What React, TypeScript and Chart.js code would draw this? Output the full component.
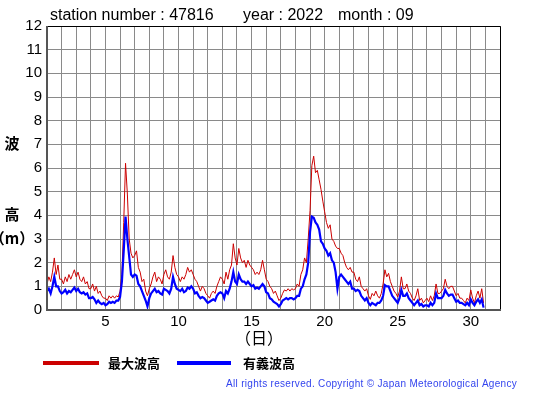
import React, { useEffect, useRef } from "react";
import { Chart, registerables } from "chart.js";

Chart.register(...registerables);

// 3-hourly observations, 8 per day, starting Sept 1 00:00 (values in m)
const maxWave: number[] = [
  1.1, 1.4, 1.2, 1.6, 2.2, 1.5, 1.9, 1.3,
  1.3, 1.1, 1.4, 1.2, 1.5, 1.3, 1.5, 1.7,
  1.4, 1.6, 1.3, 1.2, 1.4, 1.1, 1.2, 0.9,
  0.9, 1.1, 0.8, 1.0, 0.7, 0.8, 0.6, 0.5,
  0.5, 0.4, 0.6, 0.5, 0.6, 0.5, 0.6, 0.55,
  0.8, 1.5, 3.7, 6.2, 4.9, 3.0, 2.4, 2.2,
  2.3, 2.5, 1.8, 1.6, 1.2, 1.3, 0.8, 0.6,
  0.9, 1.1, 1.4, 1.6, 1.2, 1.4, 1.3, 1.1,
  1.5, 1.7, 1.4, 1.3, 1.6, 2.3, 1.8, 1.5,
  1.4, 1.2, 1.4, 1.3, 1.5, 1.8, 1.6, 1.7,
  1.5, 1.3, 1.2, 1.0, 0.8, 1.0, 0.9, 0.7,
  0.6, 0.5, 0.7, 0.8, 0.7, 1.0, 1.2, 1.4,
  1.3, 1.1, 1.6, 1.3, 1.7, 1.9, 2.8, 2.2,
  1.9, 2.6, 2.2, 2.0, 2.1, 1.8, 2.1, 1.9,
  1.8, 1.7, 1.5, 1.6, 1.5, 1.7, 2.1, 1.7,
  1.3, 1.2, 1.0, 0.9, 0.7, 0.8, 0.6, 0.4,
  0.5, 0.7, 0.85, 0.8, 0.9, 0.8, 0.9, 0.85,
  0.9, 1.1, 1.0, 1.5, 1.7, 2.2, 2.0, 3.0,
  4.2, 6.1, 6.5, 5.8, 5.9, 5.5, 5.1, 4.6,
  4.15, 3.7, 3.45, 3.6, 3.0, 2.9, 2.7, 2.6,
  2.6, 2.4, 2.3, 2.0, 1.8, 1.7, 1.8, 1.6,
  1.6, 1.3, 1.2, 1.4, 1.0, 0.9, 0.8, 0.9,
  0.6, 0.45, 0.7, 0.6, 0.8, 0.6, 0.5, 0.7,
  1.1, 1.7, 1.4, 1.55, 1.2, 1.0, 0.8, 0.7,
  0.55, 0.8, 1.4, 0.9, 0.9, 1.1, 0.8, 0.7,
  0.5, 0.4, 0.6, 0.9, 0.4, 0.5, 0.3, 0.4,
  0.5, 0.35, 0.6, 0.4, 0.6, 1.1, 0.7, 0.7,
  0.8, 0.9, 1.3, 1.0, 0.9, 1.0, 1.0, 0.8,
  0.6, 0.7, 0.5, 0.5, 0.4, 0.3, 0.5, 0.4,
  0.85, 0.5, 0.3, 0.6, 0.8, 0.5, 0.9, 0.3,
];

const sigWave: number[] = [
  0.8, 0.9, 0.7, 1.0, 1.4, 1.0, 1.0, 0.8,
  0.7, 0.75, 0.85, 0.7, 0.8, 0.75, 0.85, 0.95,
  0.8, 0.9, 0.75, 0.7, 0.75, 0.65, 0.7, 0.5,
  0.5, 0.55, 0.45, 0.3, 0.4, 0.3, 0.25, 0.3,
  0.2, 0.25, 0.35, 0.3, 0.35, 0.3, 0.4, 0.4,
  0.55, 1.2, 2.5, 3.95, 3.0, 2.25, 1.5, 1.4,
  1.5, 1.45, 1.1, 1.0, 0.8, 0.6, 0.4, 0.15,
  0.5, 0.7, 0.8, 0.9, 0.75, 0.8, 0.7, 0.65,
  0.9, 0.85, 0.8, 0.7, 0.9, 1.4, 1.1, 0.9,
  0.85, 0.8, 0.9, 0.75, 0.8, 0.95, 0.9, 1.0,
  0.9, 0.7, 0.75, 0.6, 0.5, 0.55, 0.5, 0.4,
  0.3, 0.35, 0.4, 0.45, 0.4, 0.6, 0.7, 0.75,
  0.7, 0.5, 0.8, 0.7, 0.9, 1.2, 1.6, 1.2,
  1.1, 1.5, 1.3, 1.2, 1.2, 1.1, 1.2, 1.1,
  1.0, 1.05, 0.9, 0.95, 0.9, 1.0, 1.1, 1.0,
  0.75, 0.7, 0.5, 0.45, 0.35, 0.3, 0.25, 0.15,
  0.25, 0.4, 0.45, 0.5, 0.45, 0.5, 0.5, 0.45,
  0.5, 0.6, 0.6, 0.9, 1.0, 1.3, 1.5, 2.0,
  3.3, 3.95, 3.9, 3.7, 3.6, 3.4, 2.9, 2.8,
  2.6, 2.5, 2.3, 2.4, 2.1, 2.0, 1.6, 0.9,
  1.4, 1.5, 1.4, 1.3, 1.2, 1.1, 1.2, 0.9,
  0.9, 0.8, 0.85, 0.8, 0.6, 0.5, 0.4, 0.5,
  0.3, 0.2, 0.3, 0.25, 0.2, 0.3, 0.3, 0.4,
  0.6, 1.05, 1.0, 1.0, 0.8, 0.6, 0.5, 0.4,
  0.3, 0.5, 0.85, 0.6, 0.6, 0.7, 0.5, 0.4,
  0.3, 0.2, 0.3, 0.4, 0.2, 0.25, 0.15, 0.2,
  0.2, 0.15, 0.3, 0.2, 0.3, 0.7, 0.5, 0.5,
  0.5, 0.6, 0.85, 0.7, 0.6, 0.65, 0.65, 0.5,
  0.35, 0.4, 0.3, 0.3, 0.25, 0.2, 0.3, 0.2,
  0.45, 0.3, 0.2, 0.35, 0.45, 0.3, 0.45, 0.1,
];

const SAMPLES_PER_DAY = 8;
const xLabelDays: number[] = [5, 10, 15, 20, 25, 30];
const titleParts: string[] = ["station number : 47816", "year : 2022", "month : 09"];
const legendLabels: string[] = ["最大波高", "有義波高"];
const yTitleParts: string[] = ["波", "高", "（m）"];
const xTitle = "（日）";
const copyright = "All rights reserved. Copyright © Japan Meteorological Agency";

const FONT = '"Liberation Sans", Arial, Helvetica, sans-serif';
const CJK = '"Noto Sans CJK JP", sans-serif';
const RED = "#cc0000";
const BLUE = "#0000ff";

export default function App() {
  const ref = useRef<HTMLCanvasElement | null>(null);

  useEffect(() => {
    if (!ref.current) return;
    const toPts = (arr: number[]) =>
      arr.map((v, i) => ({ x: 1 + i / SAMPLES_PER_DAY, y: v }));

    const decor = {
      id: "decor",
      afterDraw(chart: any) {
        const ctx = chart.ctx as CanvasRenderingContext2D;
        const a = chart.chartArea;
        ctx.save();
        // frame: top & right black, left & bottom dark gray
        ctx.strokeStyle = "#000";
        ctx.lineWidth = 1;
        ctx.beginPath();
        ctx.moveTo(a.left, a.top + 0.5);
        ctx.lineTo(a.right + 0.5, a.top + 0.5);
        ctx.lineTo(a.right + 0.5, a.bottom);
        ctx.stroke();
        ctx.strokeStyle = "#555";
        ctx.lineWidth = 2;
        ctx.beginPath();
        ctx.moveTo(a.left, a.top);
        ctx.lineTo(a.left, a.bottom);
        ctx.lineTo(a.right + 1, a.bottom);
        ctx.stroke();

        // title
        ctx.fillStyle = "#000";
        ctx.font = `16px ${FONT}`;
        ctx.textBaseline = "alphabetic";
        ctx.textAlign = "left";
        ctx.fillText(titleParts[0], 50, 20);
        ctx.fillText(titleParts[1], 243, 20);
        ctx.fillText(titleParts[2], 338, 20);

        // y title
        ctx.font = `bold 15px ${CJK}`;
        ctx.textAlign = "center";
        ctx.textBaseline = "middle";
        ctx.fillText(yTitleParts[0], 12, 143);
        ctx.fillText(yTitleParts[1], 12, 214);
        ctx.fillText(yTitleParts[2], 12, 238);

        // x title
        ctx.font = `16px ${CJK}`;
        ctx.fillText(xTitle, 259, 338);

        // legend
        const ly = 363;
        ctx.lineWidth = 4;
        ctx.strokeStyle = RED;
        ctx.beginPath();
        ctx.moveTo(43, ly);
        ctx.lineTo(99, ly);
        ctx.stroke();
        ctx.strokeStyle = BLUE;
        ctx.beginPath();
        ctx.moveTo(177, ly);
        ctx.lineTo(231, ly);
        ctx.stroke();
        ctx.fillStyle = "#000";
        ctx.font = `bold 13px ${CJK}`;
        ctx.textAlign = "left";
        ctx.fillText(legendLabels[0], 108, ly);
        ctx.fillText(legendLabels[1], 243, ly);

        // copyright, spread to span the same width as the reference
        ctx.fillStyle = "#3344ee";
        ctx.font = `10px ${FONT}`;
        const w = ctx.measureText(copyright).width;
        const extra = Math.max(0, (291 - w) / (copyright.length - 1));
        (ctx as any).letterSpacing = `${extra.toFixed(2)}px`;
        ctx.fillText(copyright, 226, 384);
        ctx.restore();
      },
    };

    const chart = new Chart(ref.current, {
      type: "line",
      data: {
        datasets: [
          {
            label: legendLabels[0],
            data: toPts(maxWave),
            borderColor: RED,
            borderWidth: 1,
            pointRadius: 0,
            tension: 0,
            order: 2,
          },
          {
            label: legendLabels[1],
            data: toPts(sigWave),
            borderColor: BLUE,
            borderWidth: 2.2,
            pointRadius: 0,
            tension: 0,
            order: 1,
          },
        ],
      },
      options: {
        animation: false,
        responsive: false,
        devicePixelRatio: 1,
        layout: { padding: { top: 26, right: 55, left: 0, bottom: 0 } },
        plugins: { legend: { display: false }, tooltip: { enabled: false } },
        scales: {
          x: {
            type: "linear",
            min: 1,
            max: 32,
            afterFit: (s: any) => {
              s.height = 85;
            },
            afterBuildTicks: (s: any) => {
              const t = [];
              for (let d = 1; d <= 32; d++) t.push({ value: d });
              s.ticks = t;
            },
            ticks: {
              autoSkip: false,
              maxRotation: 0,
              padding: 3,
              color: "#000",
              font: { family: FONT, size: 15 },
              callback: (v: any) => (xLabelDays.includes(Number(v)) ? String(v) : ""),
            },
            grid: { color: "#8a8a8a", lineWidth: 1, drawTicks: false },
            border: { display: false },
          },
          y: {
            min: 0,
            max: 12,
            afterFit: (s: any) => {
              s.width = 47;
            },
            ticks: {
              stepSize: 1,
              padding: 5,
              color: "#000",
              font: { family: FONT, size: 15 },
            },
            grid: { color: "#8a8a8a", lineWidth: 1, drawTicks: false },
            border: { display: false },
          },
        },
      },
      plugins: [decor],
    } as any);
    return () => chart.destroy();
  }, []);

  return (
    <div style={{ position: "fixed", left: 0, top: 0, width: 555, height: 395, background: "#fff" }}>
      <canvas ref={ref} width={555} height={395} />
    </div>
  );
}
